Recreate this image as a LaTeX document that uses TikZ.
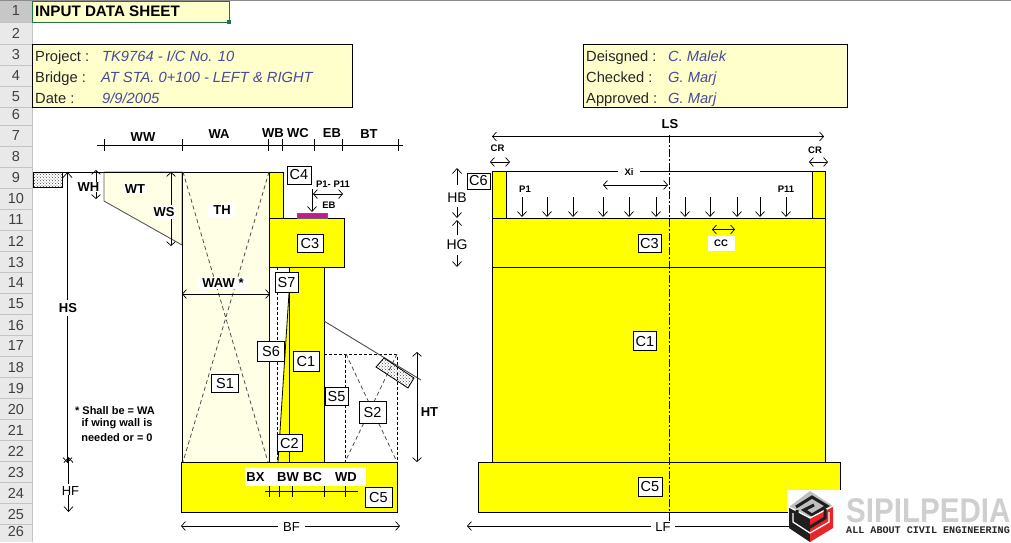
\documentclass[tikz,border=0pt]{standalone}
\usepackage{fontspec}
\setmainfont{Liberation Sans}
\newfontfamily\monofam{Liberation Mono}
\usetikzlibrary{arrows.meta,patterns}
\definecolor{barfill}{HTML}{E9E9E9}
\definecolor{barline}{HTML}{C4C4C4}
\definecolor{palecell}{HTML}{FFFFCC}
\definecolor{palewall}{HTML}{FFFFE6}
\definecolor{concrete}{HTML}{FFFF00}
\definecolor{valueblue}{HTML}{4A4A9A}
\definecolor{xlgreen}{HTML}{217346}
\definecolor{logogray}{HTML}{CFCFCF}
\definecolor{logored}{HTML}{E8262A}
\tikzset{
  fs/.style={font=\fontsize{#1}{#1}\selectfont},
  tag/.style={draw=black,fill=white,line width=.7pt,inner sep=0pt,fs=14.5,text=black,minimum width=25pt,minimum height=18pt},
  dimlabel/.style={font=\fontsize{13}{13}\selectfont\bfseries,inner sep=0pt},
  gaplabel/.style={fs=13,fill=white,inner xsep=3pt,inner ysep=1pt},
  small/.style={font=\fontsize{9.5}{9.5}\selectfont\bfseries,inner sep=0pt},
  rowno/.style={fs=14.5,text=black!75,inner sep=0pt},
  infokey/.style={fs=14.7,anchor=west,inner sep=0pt,text=black!85},
  infoval/.style={font=\fontsize{14.7}{14.7}\selectfont\itshape,anchor=west,inner sep=0pt,text=valueblue},
  body/.style={draw=black,fill=concrete,line width=.8pt},
  thin/.style={draw=black,line width=.8pt},
  dim/.style={draw=black,line width=.7pt,{Straight Barb[length=4pt,width=9pt]}-{Straight Barb[length=4pt,width=9pt]}},
  down/.style={draw=black,line width=.7pt,-{Straight Barb[length=5pt,width=9pt]}},
  hid/.style={draw=black!70,line width=.8pt,dash pattern=on 4pt off 3pt},
  hidk/.style={draw=black,line width=.7pt,dash pattern=on 3pt off 2pt},
  stipple/.style={fill=gray!50,pattern=crosshatch dots,pattern color=black!70,draw=black,line width=.8pt},
}
\begin{document}
\begin{tikzpicture}[x=1pt,y=-1pt]
\useasboundingbox (0,0) rectangle (1011,542);
\fill[white] (0,0) rectangle (1011,542);
% spreadsheet row bar
\fill[barfill] (0,0) rectangle (32,542);
\fill[black!22] (0,0) rectangle (32,22);
\draw[barline,line width=.6pt] (32,0) -- (32,542);
\draw[black!45,line width=.7pt] (0,0.4) -- (1011,0.4);
\foreach \y in {22,44,65,86,107,125,146,167,188,209,230,251,272,293,314,335,356,377,398,419,440,461,482,503,524}
  \draw[barline,line width=.6pt] (0,\y) -- (32,\y);
\foreach \n/\y in {1/11,2/33,3/55,4/76,5/97,6/115,7/136,8/157,9/178,10/199,11/220,12/241,13/262,14/283,15/304,16/325,17/346,18/367,19/388,20/409,21/430,22/451,23/472,24/493,25/514,26/531}
  \node[rowno] (row\n) at (16,\y) {\n};
% title cell
\node[draw=xlgreen,fill=palecell,line width=1.3pt,minimum width=197pt,minimum height=21pt,inner sep=0pt,anchor=north west] (title) at (32,1) {};
\fill[xlgreen] (226.5,19.5) rectangle (230.5,23.5);
\node[font=\fontsize{15.2}{15.2}\selectfont\bfseries,anchor=west,inner sep=0pt] (titletext) at (35,11.5) {INPUT DATA SHEET};
% info boxes
\node[draw=black,fill=palecell,line width=.8pt,minimum width=320pt,minimum height=63pt,inner sep=0pt,anchor=north west] (infoL) at (32,44) {};
\node[draw=black,fill=palecell,line width=.8pt,minimum width=264pt,minimum height=63pt,inner sep=0pt,anchor=north west] (infoR) at (583,44) {};
\node[infokey,anchor=base west] (k1) at (35,61) {Project :};
\node[infokey,anchor=base west] (k2) at (35,82) {Bridge :};
\node[infokey,anchor=base west] (k3) at (35,103) {Date :};
\node[infoval,anchor=base west] (v1) at (102,61) {TK9764 - I/C No. 10};
\node[infoval,anchor=base west] (v2) at (101,82) {AT STA. 0+100 - LEFT \& RIGHT};
\node[infoval,anchor=base west] (v3) at (102,103) {9/9/2005};
\node[infokey,anchor=base west] (k4) at (586,61) {Deisgned :};
\node[infokey,anchor=base west] (k5) at (586,82) {Checked :};
\node[infokey,anchor=base west] (k6) at (586,103) {Approved :};
\node[infoval,anchor=base west] (v4) at (668,61) {C. Malek};
\node[infoval,anchor=base west] (v5) at (668,82) {G. Marj};
\node[infoval,anchor=base west] (v6) at (668,103) {G. Marj};

%%%%% LEFT SECTION
% top dimension chain
\draw[thin] (97,145.5) -- (403,145.5);
\foreach \x in {104,182,268,282,314,342,398}
  \draw[thin] (\x,139) -- (\x,151);
\node[dimlabel] (lWW) at (143,137.5) {WW};
\node[dimlabel] (lWA) at (219,134.5) {WA};
\node[dimlabel] (lWB) at (273,133.5) {WB};
\node[dimlabel] (lWC) at (298,133.5) {WC};
\node[dimlabel] (lEB) at (332,133.5) {EB};
\node[dimlabel] (lBT) at (369,134) {BT};
% ground hatch and level
\draw[stipple] (33,172) rectangle (62,187);
\draw[thin] (62,172) -- (104,172);
% wing wall
\filldraw[fill=palewall,draw=black!65,line width=.9pt] (104,201) -- (104,172) -- (182,172) -- (182,245) -- cycle;
\draw[thin] (104,172) -- (182,172);
\node[dimlabel,fill=white,inner sep=1pt] (lWT) at (135,189) {WT};
% abutment back fill
\filldraw[fill=palewall,draw=black,line width=.8pt] (182,172) rectangle (269,462);
\draw[hid] (183,172) -- (268,462);
\draw[hid] (269,172) -- (183,462);
\node[dimlabel,fill=white,inner xsep=5pt,inner ysep=3pt] (lTH) at (222,210) {TH};
\node[dimlabel,fill=white,inner xsep=4pt,inner ysep=2pt] (lWAW) at (223,283) {WAW *};
\draw[dim] (182,294) -- (270,294);
% WH, WS
\draw[dim,shorten <=-2pt] (96,172) -- (96,199);
\node[dimlabel,fill=white,inner sep=1pt] (lWH) at (88.5,187) {WH};
\draw[dim] (171,172) -- (171,246);
\node[dimlabel,fill=white,inner ysep=2pt,inner xsep=1pt] (lWS) at (164,212) {WS};
% HS, HF
\draw[down] (67.5,463) -- (67.5,172);
\draw[down] (67.5,172) -- (67.5,463);
\node[gaplabel,font=\fontsize{13}{13}\selectfont\bfseries,inner ysep=3pt,inner xsep=1pt] (lHS) at (68,308) {HS};
\draw[down] (68.5,512) -- (68.5,457);
\node[gaplabel,inner ysep=3pt,inner xsep=2pt] (lHF) at (70.5,491) {HF};
\draw[down] (68.5,495) -- (68.5,512);
% note
\node[font=\fontsize{11}{11}\selectfont\bfseries,inner sep=0pt] (note1) at (115,410.5) {* Shall be = WA};
\node[font=\fontsize{11}{11}\selectfont\bfseries,inner sep=0pt] (note2) at (117,424) {if wing wall is};
\node[font=\fontsize{11}{11}\selectfont\bfseries,inner sep=0pt] (note3) at (117,437.5) {needed or = 0};
% stem
\draw[body] (269,172) rectangle (283,218);
\fill[concrete] (278,462) -- (289,293) -- (289,462) -- cycle;
\draw[thin] (278,462) -- (289,293);
\draw[body] (289,267) rectangle (324,462);
\draw[body] (269,218) rectangle (344,267);
\draw[thin] (269,267) -- (269,462);
\draw[hidk] (277.5,267) -- (277.5,462);
\draw[fill=magenta!85!blue!90!black,draw=black!60,line width=.5pt] (297,213) rectangle (327,218);
% footing
\draw[body] (181,462) rectangle (397,512);
\fill[white] (245,467) rectangle (366,486);
\node[dimlabel] (lBX) at (255.5,477) {BX};
\node[dimlabel] (lBW) at (288,477) {BW};
\node[dimlabel] (lBC) at (312.5,477) {BC};
\node[dimlabel] (lWD) at (346,477) {WD};
\draw[thin] (265,491) -- (358,491);
\foreach \x in {269,279,292,324,345}
  \draw[thin] (\x,486) -- (\x,497);
% front fill
\draw[hidk] (324,354.5) -- (397,354.5) -- (397,462);
\draw[hidk] (345,354.5) -- (345,462);
\draw[hid] (346,354) -- (397,462);
\draw[hid] (397,354) -- (345,462);
\draw[draw=black!70,line width=.9pt] (324,321) -- (421,380);
\draw[stipple] (376,367) -- (384,358) -- (414,378) -- (408,388) -- cycle;
\draw[dim] (417,352) -- (417,462);
\node[dimlabel] (lHT) at (429.5,412) {HT};
% load
\node[small] (lP) at (333,184) {P1- P11};
\draw[dim] (313,194) -- (343,194);
\draw[down] (312,189) -- (312,212);
\node[small] (lEBs) at (329,205) {EB};
% BF
\draw[dim] (181,526) -- (400,526);
\node[gaplabel,inner xsep=5pt] (lBF) at (291.5,527) {BF};
% tags
\node[tag,minimum width=24pt] (C4) at (299,175) {C4};
\node[tag,minimum width=26pt] (C3a) at (310,243) {C3};
\node[tag,minimum width=23pt,minimum height=20pt] (S7) at (286.5,282) {S7};
\node[tag,minimum width=27pt,minimum height=20pt] (S6) at (271,351.5) {S6};
\node[tag,minimum width=26pt,minimum height=20pt] (C1a) at (306,361.5) {C1};
\node[tag,minimum width=27pt] (S1) at (225,383) {S1};
\node[tag,minimum width=25pt,minimum height=17pt] (C2) at (289.5,443) {C2};
\node[tag,minimum width=23pt] (S5) at (336.5,396) {S5};
\node[tag,minimum width=27pt,minimum height=22pt] (S2) at (372.5,412) {S2};
\node[tag,minimum width=27pt,minimum height=20pt] (C5a) at (378.5,497) {C5};

%%%%% RIGHT SECTION
\draw[dim] (492,136.5) -- (824,136.5);
\node[dimlabel] (lLS) at (670,124) {LS};
\node[small] (lCR1) at (497.5,148) {CR};
\node[small] (lCR2) at (815,150) {CR};
\draw[dim] (490,162) -- (510,162);
\draw[dim] (809,162) -- (828,162);
% bodies
\draw[body] (492,462) rectangle (825,267);
\draw[body] (492,218) rectangle (825,267);
\draw[body] (492,171) rectangle (506,218);
\draw[body] (812,171) rectangle (825,218);
\draw[thin] (506,171) -- (812,171);
\draw[body] (478,462) rectangle (840,512);
\node[small,fill=white,inner xsep=7pt,inner ysep=1pt] (lXi) at (629,172) {Xi};
% loads
\node[small] (lP1) at (525,189) {P1};
\node[small] (lP11) at (786,189) {P11};
\foreach \x in {522,547,573,603,629,656,685,710,737,760,786}
  \draw[down] (\x,197) -- (\x,217);
\draw[dim] (603,185) -- (668,185);
% heights
\draw[down] (457,185) -- (457,168);
\node[inner sep=0pt,fs=14] (lHB) at (457,198) {HB};
\draw[down] (457,207) -- (457,218);
\draw[down] (457,235) -- (457,220);
\node[inner sep=0pt,fs=14] (lHG) at (457,245) {HG};
\draw[down] (457,255) -- (457,267);
% centre line
\draw[draw=black,line width=.8pt,dash pattern=on 8pt off 2pt on 2pt off 2pt] (669,135) -- (669,530);
% CC
\node[small,fill=white,inner xsep=5pt,inner ysep=4pt,minimum width=27pt] (lCC) at (721,243.5) {CC};
\draw[dim] (712,229.5) -- (735,229.5);
% tags
\node[tag,minimum width=23pt,minimum height=16pt] (C6) at (478.5,181) {C6};
\node[tag,minimum width=23pt] (C3b) at (649.5,243.5) {C3};
\node[tag,minimum width=23pt,minimum height=19pt] (C1b) at (645,341) {C1};
\node[tag,minimum width=24pt,minimum height=19pt] (C5b) at (650,486.5) {C5};
% LF
\draw[draw=black,line width=.7pt,{Straight Barb[length=4pt,width=9pt]}-] (467,526) -- (790,526);
\node[gaplabel,inner xsep=4pt] (lLF) at (663,527) {LF};

%%%%% LOGO
\fill[white] (787,490) rectangle (842,542);
\fill[white] (842,490) rectangle (1011,542);
\draw[thin] (478,512) -- (788,512);
\draw[draw=black,line width=.7pt] (767,526) -- (790,526);
% cube
\fill[black!88] (789,507) -- (810,518) -- (810,542) -- (789,528) -- cycle;
\fill[logored] (833,506) -- (810,518) -- (810,542) -- (833,528) -- cycle;
\fill[black!25] (810,491) -- (833,506) -- (810,518) -- (789,507) -- cycle;
% spiral
\draw[black!88,line width=3pt,line join=miter] (796,507) -- (812,497) -- (827,506) -- (812,515) -- (804,510) -- (814,505);
\draw[white,line width=1.2pt] (789,507) -- (810,518) -- (833,506);
\draw[black!88,line width=3pt] (797,510) -- (797,519) -- (810,527) -- (825,518) -- (825,509);
\draw[white,line width=1.3pt] (793,513) -- (793,522) -- (810,533) -- (829,522) -- (829,512);
\node[font=\fontsize{30}{30}\selectfont\bfseries,text=logogray,inner sep=0pt,anchor=west] (logoname) at (846,510.5) {\scalebox{.985}[1.14]{SIPILPEDIA}};
\node[font=\fontsize{10.1}{10.1}\selectfont\bfseries\monofam,inner sep=0pt,anchor=west,text=black!85] (logotag) at (846,530.5) {ALL ABOUT CIVIL ENGINEERING};
\end{tikzpicture}
\end{document}
